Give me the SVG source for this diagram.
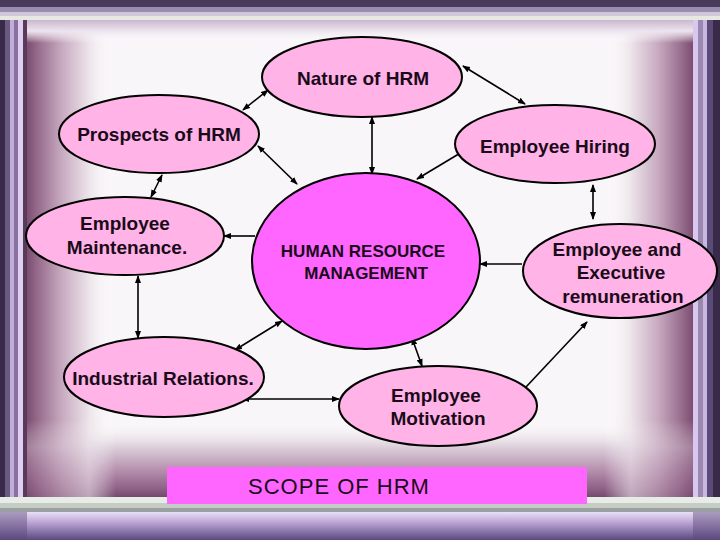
<svg xmlns="http://www.w3.org/2000/svg" width="720" height="540" viewBox="0 0 720 540">
<style>
.node{fill:#ffb3e6;stroke:#000;stroke-width:2}
.core{fill:#ff66ff;stroke:#000;stroke-width:2}
.t{font-family:"Liberation Sans",Arial,sans-serif;font-weight:bold;font-size:19px;fill:#1a0a1a;text-anchor:middle}
.c{font-size:17px}
.scope{font-family:"Liberation Sans",Arial,sans-serif;font-size:22px;fill:#1a0a1a;text-anchor:middle;letter-spacing:1px}
.ln{stroke:#000;stroke-width:1.6;fill:none}
.bi{marker-start:url(#ah);marker-end:url(#ah)}
.one{marker-end:url(#ah)}
</style>
<defs>
<marker id="ah" markerUnits="userSpaceOnUse" markerWidth="8" markerHeight="6" refX="7" refY="3" orient="auto-start-reverse">
<path d="M0,0 L8,3 L0,6 z" fill="#000"/>
</marker>
<linearGradient id="gl" x1="0" y1="0" x2="1" y2="0">
<stop offset="0" stop-color="#7a4a6e"/>
<stop offset="0.15" stop-color="#9a7090"/>
<stop offset="0.4" stop-color="#c8aac0"/>
<stop offset="0.7" stop-color="#ece4ea"/>
<stop offset="1" stop-color="#ffffff" stop-opacity="0"/>
</linearGradient>
<linearGradient id="gr" x1="1" y1="0" x2="0" y2="0">
<stop offset="0" stop-color="#7a4a6e"/>
<stop offset="0.15" stop-color="#9a7090"/>
<stop offset="0.4" stop-color="#c8aac0"/>
<stop offset="0.7" stop-color="#ece4ea"/>
<stop offset="1" stop-color="#ffffff" stop-opacity="0"/>
</linearGradient>
<linearGradient id="gb" x1="0" y1="1" x2="0" y2="0">
<stop offset="0" stop-color="#6e4868"/>
<stop offset="0.12" stop-color="#8e6086"/>
<stop offset="0.35" stop-color="#b48eac"/>
<stop offset="0.65" stop-color="#dccedA"/>
<stop offset="1" stop-color="#ffffff" stop-opacity="0"/>
</linearGradient>
<linearGradient id="gt" x1="0" y1="0" x2="0" y2="1">
<stop offset="0" stop-color="#c8b4cc"/>
<stop offset="0.5" stop-color="#ece4ee"/>
<stop offset="1" stop-color="#ffffff" stop-opacity="0"/>
</linearGradient>
<linearGradient id="gbl" x1="0" y1="0" x2="0" y2="1">
<stop offset="0" stop-color="#e8e0f8"/>
<stop offset="0.4" stop-color="#b8a0d0"/>
<stop offset="1" stop-color="#5a4a80"/>
</linearGradient>
</defs>

<g id="background">
<rect x="0" y="0" width="720" height="540" fill="#f8f6f8"/>
<rect x="26" y="20" width="90" height="480" fill="url(#gl)"/>
<rect x="604" y="20" width="90" height="480" fill="url(#gr)"/>
<rect x="26" y="420" width="668" height="78" fill="url(#gb)"/>
<rect x="26" y="19" width="668" height="24" fill="url(#gt)"/>
<rect x="26" y="420" width="90" height="78" fill="url(#gl)" opacity="0.6"/>
<rect x="604" y="420" width="90" height="78" fill="url(#gr)" opacity="0.6"/>
<!-- left stripes -->
<rect x="0" y="0" width="5" height="540" fill="#3a2a4a"/>
<rect x="5" y="0" width="5" height="540" fill="#6a5a82"/>
<rect x="10" y="0" width="4" height="540" fill="#c0b0d8"/>
<rect x="14" y="0" width="4" height="540" fill="#8a70a0"/>
<rect x="18" y="0" width="5" height="540" fill="#e0d0f0"/>
<rect x="23" y="0" width="4" height="540" fill="#5a3a5c"/>
<!-- right stripes -->
<rect x="693" y="0" width="5" height="540" fill="#d8c8f0"/>
<rect x="698" y="0" width="5" height="540" fill="#9a88b0"/>
<rect x="703" y="0" width="4" height="540" fill="#c8b8e0"/>
<rect x="707" y="0" width="6" height="540" fill="#5a4a78"/>
<rect x="713" y="0" width="7" height="540" fill="#3a2a4a"/>
<!-- top bands -->
<rect x="0" y="0" width="720" height="7" fill="#4a3a5a"/>
<rect x="0" y="7" width="720" height="5" fill="#9a8cae"/>
<rect x="0" y="12" width="720" height="4" fill="#cfc8da"/>
<rect x="0" y="16" width="720" height="4" fill="#e8e8e2"/>
<!-- bottom bands -->
<rect x="0" y="497" width="720" height="6" fill="#e8ece6"/>
<rect x="0" y="503" width="720" height="5" fill="#c4ccc4"/>
<rect x="0" y="508" width="720" height="4" fill="#9aa0a2"/>
<rect x="0" y="512" width="720" height="28" fill="url(#gbl)"/>
<rect x="0" y="512" width="27" height="28" fill="#5a4a78" opacity="0.45"/>
<rect x="693" y="512" width="27" height="28" fill="#5a4a78" opacity="0.45"/>
</g>

<g id="connectors">
<line class="ln bi" x1="268" y1="90" x2="243" y2="110"/>
<line class="ln bi" x1="463" y1="66" x2="525" y2="104"/>
<line class="ln bi" x1="372" y1="117" x2="372" y2="174"/>
<line class="ln bi" x1="258" y1="146" x2="297" y2="184"/>
<line class="ln one" x1="462" y1="152" x2="417" y2="179"/>
<line class="ln bi" x1="162" y1="175" x2="151" y2="197"/>
<line class="ln one" x1="255" y1="236" x2="224" y2="236"/>
<line class="ln bi" x1="138" y1="276" x2="138" y2="338"/>
<line class="ln bi" x1="282" y1="321" x2="235" y2="350"/>
<line class="ln bi" x1="242" y1="399" x2="339" y2="399"/>
<line class="ln bi" x1="412" y1="338" x2="422" y2="366"/>
<line class="ln one" x1="526" y1="387" x2="587" y2="322"/>
<line class="ln one" x1="522" y1="264" x2="480" y2="264"/>
<line class="ln bi" x1="593" y1="185" x2="593" y2="219"/>
</g>

<g id="node-nature">
<ellipse class="node" cx="362" cy="77" rx="100" ry="40"/>
<text class="t" x="363" y="85">Nature of HRM</text>
</g>
<g id="node-prospects">
<ellipse class="node" cx="159" cy="134" rx="100" ry="39"/>
<text class="t" x="159" y="141">Prospects of HRM</text>
</g>
<g id="node-hiring">
<ellipse class="node" cx="555" cy="144" rx="100" ry="39"/>
<text class="t" x="555" y="153">Employee Hiring</text>
</g>
<g id="node-maintenance">
<ellipse class="node" cx="125" cy="236" rx="99" ry="39"/>
<text class="t" x="125" y="230">Employee</text>
<text class="t" x="127" y="254">Maintenance.</text>
</g>
<g id="node-hrm">
<ellipse class="core" cx="366" cy="261" rx="114" ry="88"/>
<text class="t c" x="363" y="257">HUMAN RESOURCE</text>
<text class="t c" x="366" y="279">MANAGEMENT</text>
</g>
<g id="node-remuneration">
<ellipse class="node" cx="620" cy="271" rx="97" ry="47"/>
<text class="t" x="617" y="256">Employee and</text>
<text class="t" x="621" y="279">Executive</text>
<text class="t" x="623" y="303">remuneration</text>
</g>
<g id="node-industrial">
<ellipse class="node" cx="164" cy="377" rx="100" ry="40"/>
<text class="t" x="163" y="385">Industrial Relations.</text>
</g>
<g id="node-motivation">
<ellipse class="node" cx="438" cy="406" rx="99" ry="40"/>
<text class="t" x="436" y="402">Employee</text>
<text class="t" x="438" y="425">Motivation</text>
</g>
<g id="title">
<rect x="167" y="467" width="420" height="37" fill="#ff66ff"/>
<text class="scope" x="339" y="494">SCOPE OF HRM</text>
</g>
</svg>
